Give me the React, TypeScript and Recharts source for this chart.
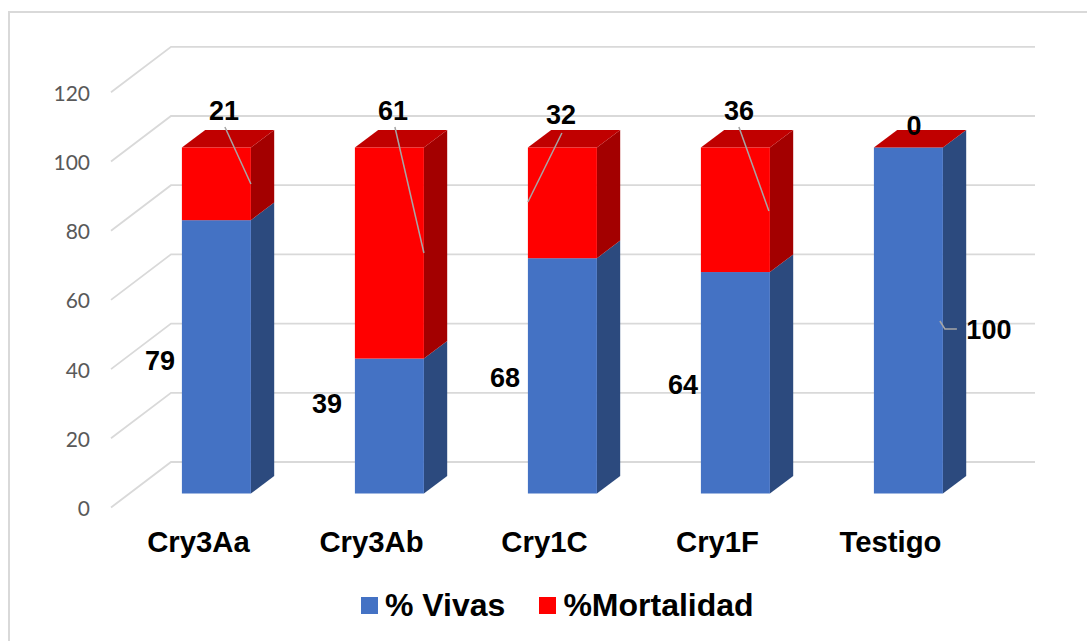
import { BarChart, Bar, XAxis, YAxis, CartesianGrid, Legend, LabelList } from 'recharts'

const categories = ['Cry3Aa', 'Cry3Ab', 'Cry1C', 'Cry1F', 'Testigo']
const vivas = [79, 39, 68, 64, 100]
const mortalidad = [21, 61, 32, 36, 0]
const yTicks = [0, 20, 40, 60, 80, 100, 120]

const chartData = categories.map((name, i) => ({ name, vivas: vivas[i], mortalidad: mortalidad[i] }))

// depth of the fake 3D boxes
const DEPTH_X = 23.3
const DEPTH_Y = 17.6

// label centres and leader lines, relative to each bar's top left corner
const vivasLabelPos = [[-22, 141], [-28, 45], [-23, 120], [-18, 113], [115, 182]]
const vivasLeaders = [null, null, null, null, [[66, 173.5], [71, 181.5], [83, 181.5]]]
const mortLabelPos = [[42, -37], [38, -37], [33, -33], [38, -37], [40, -22]]
const mortLeaders = [
  [[43, -20.5], [69, 36.5]],
  [[40, -20.5], [69, 105.5]],
  [[34, -14.5], [0, 54.5]],
  [[38, -20.5], [68, 63.5]],
  null,
]

const ARIAL = '"Liberation Sans", Arial, sans-serif'

function Box3D({ x, y, width, height, fill, side, top }: any) {
  const r = x + width
  const b = y + height
  return (
    <g>
      <path d={`M${r},${y} L${r + DEPTH_X},${y - DEPTH_Y} L${r + DEPTH_X},${b - DEPTH_Y} L${r},${b} Z`} fill={side} />
      {top && <path d={`M${x},${y} L${x + DEPTH_X},${y - DEPTH_Y} L${r + DEPTH_X},${y - DEPTH_Y} L${r},${y} Z`} fill={top} />}
      <rect x={x} y={y} width={width} height={height} fill={fill} />
    </g>
  )
}

// one label with its optional grey leader line
function makeLabel(positions: number[][], leaders: any[]) {
  return function DataLabel({ x, y, value, index }: any) {
    const [dx, dy] = positions[index]
    const leader = leaders[index]
    return (
      <g>
        {leader && (
          <polyline
            points={leader.map((p: number[]) => `${x + p[0]},${y + p[1]}`).join(' ')}
            fill="none"
            stroke="#a6a6a6"
            strokeWidth={1.5}
          />
        )}
        <text
          x={x + dx}
          y={y + dy}
          textAnchor="middle"
          dominantBaseline="central"
          fontFamily={ARIAL}
          fontWeight="bold"
          fontSize={27}
          fill="#000"
        >
          {value}
        </text>
      </g>
    )
  }
}

// floor-to-wall gridline: diagonal on the left, then along the back wall
function GridLine({ y1 }: any) {
  return (
    <polyline
      points={`111,${y1 + 14} 171,${y1 - 31.5} 1035,${y1 - 31.5}`}
      fill="none"
      stroke="#d9d9d9"
      strokeWidth={1.8}
    />
  )
}

function YTick({ y, payload }: any) {
  return (
    <text x={90} y={y + 14} textAnchor="end" dominantBaseline="central" fontFamily='Lato, sans-serif' fontSize={21} fill="#595959">
      {payload.value}
    </text>
  )
}

function XTick({ x, payload }: any) {
  return (
    <text x={x - 18} y={552} textAnchor="middle" fontFamily={ARIAL} fontWeight="bold" fontSize={29.3} fill="#000">
      {payload.value}
    </text>
  )
}

function LegendRow({ payload }: any) {
  return (
    <div style={{ display: 'flex', alignItems: 'center', height: 36, fontFamily: ARIAL, fontWeight: 'bold', fontSize: 32, color: '#000' }}>
      {payload.map((item: any, i: number) => (
        <div key={item.value} style={{ display: 'flex', alignItems: 'center', marginLeft: i ? 34 : 0 }}>
          <span style={{ width: 17, height: 17, background: item.color, marginRight: 7, display: 'inline-block' }} />
          <span style={{ whiteSpace: 'nowrap' }}>{item.value}</span>
        </div>
      ))}
    </div>
  )
}

export default function App() {
  return (
    <div style={{ position: 'absolute', left: 0, top: 0, width: 1087, height: 641, background: '#fff' }}>
      <div style={{ position: 'absolute', left: 8, top: 11, width: 1079, height: 630, borderLeft: '2px solid #d9d9d9', borderTop: '2px solid #d9d9d9', boxSizing: 'border-box' }} />
      <BarChart
        width={1087}
        height={641}
        data={chartData}
        margin={{ top: 78.3, right: 92, bottom: 81.5, left: 110 }}
        barCategoryGap="30%"
        style={{ position: 'absolute', left: 0, top: 0 }}
      >
        <CartesianGrid vertical={false} horizontal={(props: any) => <GridLine key={props.key ?? props.y1} {...props} />} />
        <XAxis dataKey="name" axisLine={false} tickLine={false} tick={<XTick />} interval={0} />
        <YAxis domain={[0, 120]} ticks={yTicks} width={20} axisLine={false} tickLine={false} tick={<YTick />} interval={0} />
        <Legend
          content={<LegendRow />}
          layout="horizontal"
          wrapperStyle={{ position: 'absolute', left: 361, top: 587, width: 420, height: 36 }}
        />
        <Bar
          dataKey="vivas"
          name="% Vivas"
          stackId="a"
          fill="#4472C4"
          isAnimationActive={false}
          shape={(p: any) => <Box3D {...p} fill="#4472C4" side="#2C4A7E" />}
        >
          <LabelList dataKey="vivas" content={makeLabel(vivasLabelPos, vivasLeaders)} />
        </Bar>
        <Bar
          dataKey="mortalidad"
          name="%Mortalidad"
          stackId="a"
          fill="#FF0000"
          isAnimationActive={false}
          shape={(p: any) => <Box3D {...p} fill="#FF0000" side="#A30000" top="#C00000" />}
        >
          <LabelList dataKey="mortalidad" content={makeLabel(mortLabelPos, mortLeaders)} />
        </Bar>
      </BarChart>
    </div>
  )
}
